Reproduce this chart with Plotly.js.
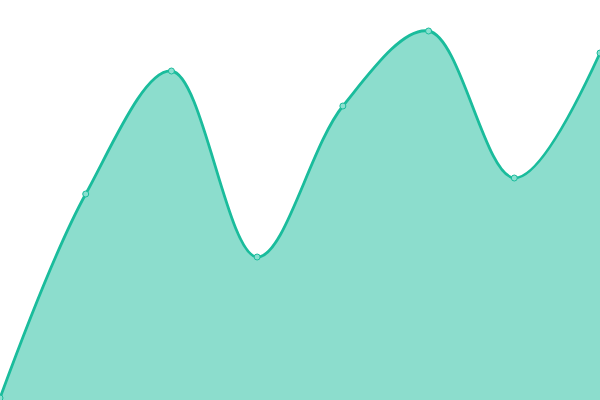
<!DOCTYPE html>
<html>
<head>
<meta charset="utf-8">
<script src="https://cdn.plot.ly/plotly-3.0.1.min.js"></script>
<style>html,body{margin:0;padding:0;background:#fff;}#chart{width:600px;height:400px;}</style>
</head>
<body>
<div id="chart"></div>
<script>
const xs = [0, 1, 2, 3, 4, 5, 6, 7];
const values = [0.5, 51.5, 82.25, 35.75, 73.5, 92.25, 55.5, 86.75];

Plotly.newPlot('chart', [{
  type: 'scatter',
  mode: 'lines+markers',
  x: xs,
  y: values,
  line: { color: '#1abc9c', width: 2.8, shape: 'spline', smoothing: 1 },
  marker: { size: 6, color: '#8ae0d0', line: { color: '#1abc9c', width: 1 } },
  fill: 'tozeroy',
  fillcolor: 'rgba(26,188,156,0.5)',
  hoverinfo: 'y'
}], {
  width: 600, height: 400,
  margin: { l: 0, r: 0, t: 0, b: 0 },
  paper_bgcolor: '#fff', plot_bgcolor: '#fff',
  showlegend: false,
  xaxis: { range: [0, 7], visible: false, fixedrange: true },
  yaxis: { range: [0, 100], visible: false, fixedrange: true }
}, { displayModeBar: false, staticPlot: true });
</script>
</body>
</html>
